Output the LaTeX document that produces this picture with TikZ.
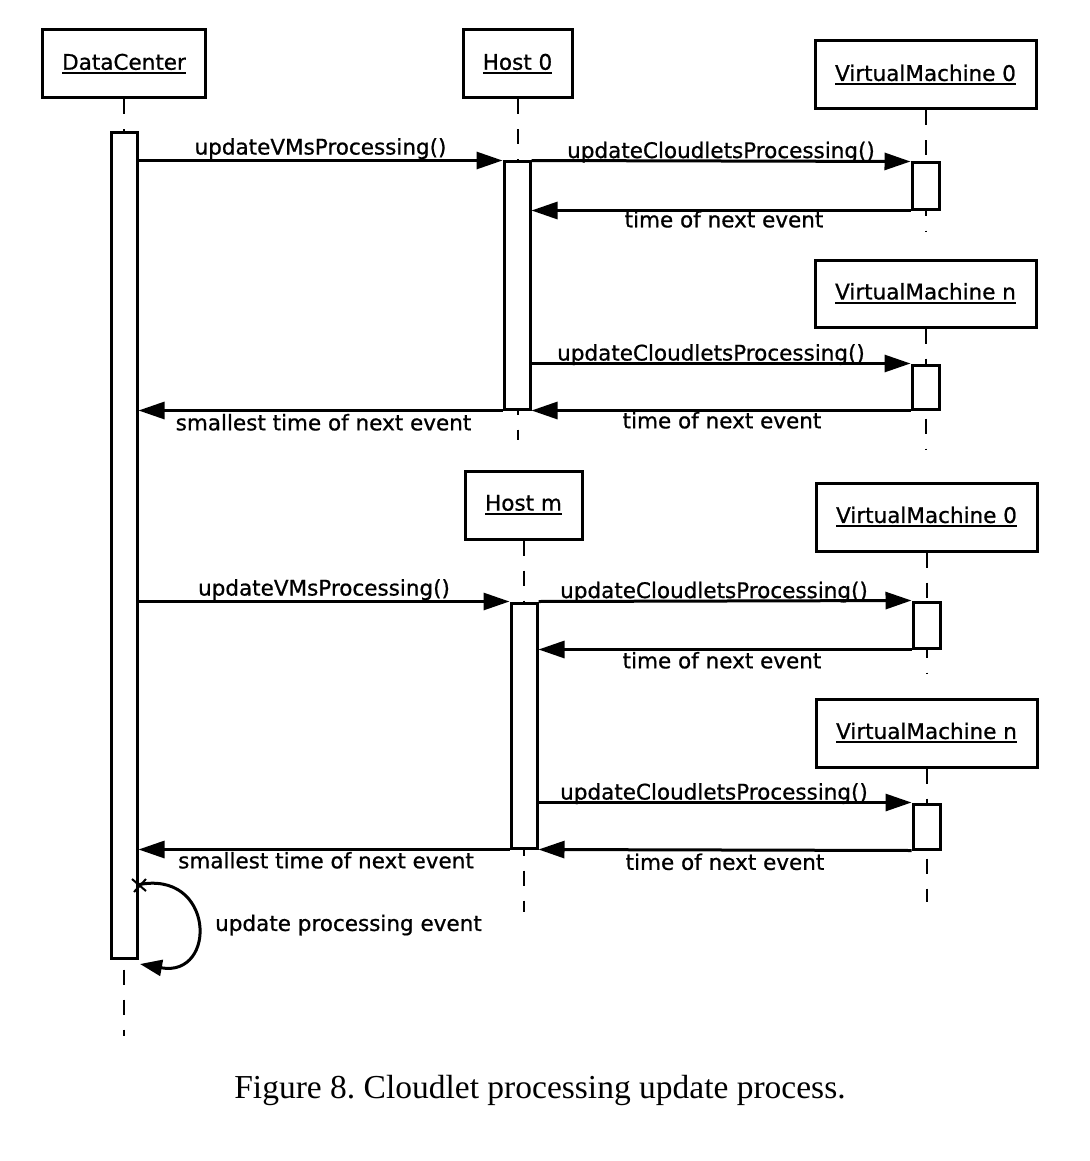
\documentclass[tikz,border=0pt]{standalone}
\usepackage{fontspec}
\setmainfont[FakeBold=0.8]{DejaVu Sans}
\newfontfamily\labfont[FakeBold=0.8]{DejaVu Sans}
\newfontfamily\capfont{Liberation Serif}
\usetikzlibrary{arrows.meta}
\newcommand\undl[1]{\setbox0\hbox{#1}\rlap{\rule[-4.5pt]{\wd0}{2pt}}\box0}
\tikzset{
  obj/.style={draw, line width=3pt, fill=white, inner sep=0pt, font=\labfont\fontsize{21.5}{24}\selectfont},
  act/.style={draw, line width=3pt, fill=white, inner sep=0pt, minimum width=26pt},
  life/.style={line width=2pt, dash pattern=on 15pt off 15pt},
  msg/.style={line width=3pt, -{Triangle[length=26pt,width=17pt]}},
  lbl/.style={font=\labfont\fontsize{21.5}{24}\selectfont, inner sep=0pt},
}
\begin{document}
\begin{tikzpicture}[x=1pt,y=-1pt]
\useasboundingbox (0,0) rectangle (1089,1161);
% object boxes
\node[obj, minimum width=163pt, minimum height=68pt] (dc) at (124,64) {\undl{DataCenter}};
\node[obj, minimum width=109pt, minimum height=68pt] (h0) at (517.5,64) {\undl{Host 0}};
\node[obj, minimum width=221pt, minimum height=68pt] (vm0) at (925.5,75) {\undl{VirtualMachine 0}};
\node[obj, minimum width=221pt, minimum height=67pt] (vmn) at (925.5,293.5) {\undl{VirtualMachine n}};
\node[obj, minimum width=117pt, minimum height=68pt] (hm) at (523.5,505) {\undl{Host m}};
\node[obj, minimum width=221pt, minimum height=68pt] (vm0b) at (926.5,517) {\undl{VirtualMachine 0}};
\node[obj, minimum width=221pt, minimum height=68pt] (vmnb) at (926.5,733) {\undl{VirtualMachine n}};
% lifeline ends
\coordinate (dcend) at (124,1036);
\coordinate (h0end) at (517.5,440);
\coordinate (vm0end) at (925.5,232);
\coordinate (vmnend) at (925.5,450);
\coordinate (hmend) at (523.5,912);
\coordinate (vm0bend) at (926.5,674);
\coordinate (vmnbend) at (926.5,902);
\draw[life] (dc.south) -- (dcend);
\draw[life] (h0.south) -- (h0end);
\draw[life] (vm0.south) -- (vm0end);
\draw[life] (vmn.south) -- (vmnend);
\draw[life] (hm.south) -- (hmend);
\draw[life] (vm0b.south) -- (vm0bend);
\draw[life] (vmnb.south) -- (vmnbend);
% activations
\node[act, minimum height=825pt] (dca) at (124,545.5) {};
\node[act, minimum height=247pt] (h0a) at (517,285.5) {};
\node[act, minimum width=27pt, minimum height=46pt] (vm0a) at (925.5,186) {};
\node[act, minimum width=27pt, minimum height=44pt] (vmna) at (925.5,387) {};
\node[act, minimum height=245pt] (hma) at (524,725.5) {};
\node[act, minimum width=27pt, minimum height=46pt] (vm0ba) at (926.5,625) {};
\node[act, minimum width=27pt, minimum height=45pt] (vmnba) at (926.5,826.5) {};
% messages, host 0
\draw[msg] (dca.east |- h0a.north) -- node[lbl, above=0pt] (l1) {updateVMsProcessing()} (h0a.north west);
\draw[msg] (h0a.north east) -- node[lbl, above=-3pt] (l2) {updateCloudletsProcessing()} (vm0a.north west);
\draw[msg] (vm0a.south west) -- node[lbl, below=-1pt, xshift=3pt] (l3) {time of next event} (h0a.east |- vm0a.south);
\draw[msg] (h0a.east |- vmna.north) -- node[lbl, above=-3pt, xshift=-10pt] (l4) {updateCloudletsProcessing()} (vmna.north west);
\draw[msg] (vmna.south west) -- node[lbl, below=0pt, xshift=1pt] (l5) {time of next event} (h0a.south east);
\draw[msg] (h0a.south west) -- node[lbl, below=2pt, xshift=3pt] (l6) {smallest time of next event} (dca.east |- h0a.south);
% messages, host m
\draw[msg] (dca.east |- hma.north) -- node[lbl, above=0pt] (l7) {updateVMsProcessing()} (hma.north west);
\draw[msg] (hma.north east) -- node[lbl, above=-3pt, xshift=-11pt] (l8) {updateCloudletsProcessing()} (vm0ba.north west);
\draw[msg] (vm0ba.south west) -- node[lbl, below=1pt, xshift=-3pt] (l9) {time of next event} (hma.east |- vm0ba.south);
\draw[msg] (hma.east |- vmnba.north) -- node[lbl, above=-3pt, xshift=-11pt] (l10) {updateCloudletsProcessing()} (vmnba.north west);
\draw[msg] (vmnba.south west) -- node[lbl, below=2pt] (l11) {time of next event} (hma.south east);
\draw[msg] (hma.south west) -- node[lbl, below=1pt, xshift=2pt] (l12) {smallest time of next event} (dca.east |- hma.south);
% self message
\coordinate (loopstart) at (137,885);
\coordinate (loopend) at (140,964);
\draw[line width=3pt, -{Triangle[length=22pt,width=16pt]}] (loopstart) .. controls (215,868) and (218,978) .. (loopend);
\draw[line width=2pt] (132,879) -- (146,891) (146,879) -- (134,892);
\node[lbl, anchor=west] (l13) at (215,925) {update processing event};
% caption
\node[font=\capfont\fontsize{33.5}{38}\selectfont, inner sep=0pt] (cap) at (540,1090) {Figure 8.\ Cloudlet processing update process.};
\end{tikzpicture}
\end{document}
